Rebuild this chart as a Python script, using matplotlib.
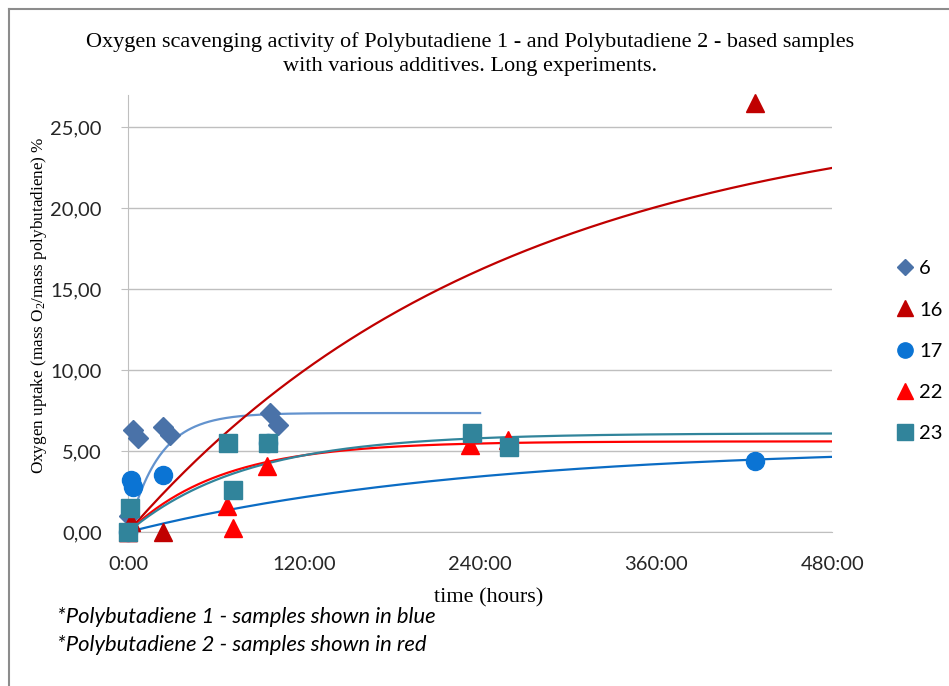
import numpy as np
import matplotlib
matplotlib.use('Agg')
import matplotlib.pyplot as plt
from matplotlib.lines import Line2D

# Measured points (hours, % uptake) per sample
s6_t = [1, 3.4, 6.8, 23.9, 28.6, 96.8, 102]
s6_y = [1.0, 6.3, 5.8, 6.5, 6.0, 7.35, 6.6]
s16_t = [0, 2, 24, 427.5]
s16_y = [0.0, 0.6, 0.0, 26.5]
s17_t = [0, 2, 3.4, 24, 95.5, 427.5]
s17_y = [0.0, 3.2, 2.8, 3.5, 5.5, 4.4]
s22_t = [0, 67.5, 71.6, 94.8, 233, 259]
s22_y = [0.0, 1.6, 0.25, 4.1, 5.4, 5.7]
s23_t = [0, 1.4, 68, 71.6, 95.5, 234.5, 260]
s23_y = [0.0, 1.5, 5.5, 2.6, 5.5, 6.1, 5.25]

# Model curves y = plateau * (1 - exp(-t / tau)), drawn up to t_end
names = ['6', '16', '17', '22', '23']
model_plateau = [7.35, 26.5, 5.3, 5.6, 6.1]
model_tau = [21, 254, 230, 64, 80]
model_end = [240, 480, 480, 480, 480]

xticks = [0, 120, 240, 360, 480]
xtick_labels = ['0:00', '120:00', '240:00', '360:00', '480:00']
yticks = [0, 5, 10, 15, 20, 25]
ytick_labels = ['0,00', '5,00', '10,00', '15,00', '20,00', '25,00']

plt.rcParams['mathtext.default'] = 'regular'
serif = 'Liberation Serif'
sans = 'Lato'

fig = plt.figure(figsize=(9.49, 6.86), dpi=100)
fig.set_facecolor('white')
ax = fig.add_axes([0.1349, 0.2245, 0.742, 0.637])

# model curves first, markers on top
curve_cols = ['#6393CE', '#C00000', '#0B6CC4', '#FF0000', '#31849B']
for amp, tau, end, col in zip(model_plateau, model_tau, model_end, curve_cols):
    t = np.linspace(0, end, 300)
    ax.plot(t, amp * (1 - np.exp(-t / tau)), color=col, lw=1.6, zorder=2)

ax.plot(s6_t, s6_y, ls='none', marker='D', ms=10, color='#4A72A8', label='6', zorder=3)
ax.plot(s16_t, s16_y, ls='none', marker='^', ms=13, color='#C00000', label='16', zorder=3)
ax.plot(s17_t, s17_y, ls='none', marker='o', ms=13, color='#0B74D4', label='17', zorder=3)
ax.plot(s22_t, s22_y, ls='none', marker='^', ms=13, color='#FF0000', label='22', zorder=3)
ax.plot(s23_t, s23_y, ls='none', marker='s', ms=13, color='#31849B', label='23', zorder=3)

ax.set_xlim(0, 480)
ax.set_ylim(0, 27)
ax.set_xticks(xticks)
ax.set_xticklabels(xtick_labels, family=sans, size=14.5, color='#262626')
ax.set_yticks(yticks)
ax.set_yticklabels(ytick_labels, family=sans, size=14.5, color='#262626')
ax.tick_params(axis='x', length=0, pad=17)
ax.tick_params(axis='y', length=5, color='#BFBFBF', pad=14)
ax.yaxis.grid(True, color='#BFBFBF', lw=1)
ax.set_axisbelow(True)
for s in ['top', 'right']:
    ax.spines[s].set_visible(False)
ax.spines['left'].set_color('#BFBFBF')
ax.spines['bottom'].set_color('#BFBFBF')
for m in ax.lines[5:]:
    m.set_clip_on(False)

# Title and axis titles
fig.text(0.495, 0.938, 'Oxygen scavenging activity of Polybutadiene 1 - and Polybutadiene 2 - based samples',
         ha='center', va='center', family=serif, size=16)
fig.text(0.495, 0.903, 'with various additives. Long experiments.',
         ha='center', va='center', family=serif, size=16)
fig.text(0.515, 0.128, 'time (hours)', ha='center', va='center', family=serif, size=16)
fig.text(0.041, 0.555, 'Oxygen uptake (mass O$_2$/mass polybutadiene) %', rotation=90,
         ha='center', va='center', family=serif, size=12.3)

## Footnotes
fig.text(0.06, 0.1, '*Polybutadiene 1 - samples shown in blue', family=sans, style='italic', size=15.8, va='center')
fig.text(0.06, 0.06, '*Polybutadiene 2 - samples shown in red', family=sans, style='italic', size=15.8, va='center')

# Legend
handles = [Line2D([], [], ls='none', marker='D', ms=8, color='#4A72A8'),
           Line2D([], [], ls='none', marker='^', ms=11, color='#C00000'),
           Line2D([], [], ls='none', marker='o', ms=11, color='#0B74D4'),
           Line2D([], [], ls='none', marker='^', ms=11, color='#FF0000'),
           Line2D([], [], ls='none', marker='s', ms=11, color='#31849B')]
leg = fig.legend(handles, names, loc='center left', bbox_to_anchor=(0.926, 0.488), frameon=False,
                 handlelength=0.8, handletextpad=0.3, labelspacing=1.2,
                 prop={'family': sans, 'size': 14.5})

# Chart border
fig.add_artist(Line2D([0.009, 0.009], [0.0, 0.987], color='#8C8C8C', lw=1.5))
fig.add_artist(Line2D([0.009, 1.0], [0.987, 0.987], color='#8C8C8C', lw=1.5))

fig.savefig('out.png', dpi=100, facecolor='white')
